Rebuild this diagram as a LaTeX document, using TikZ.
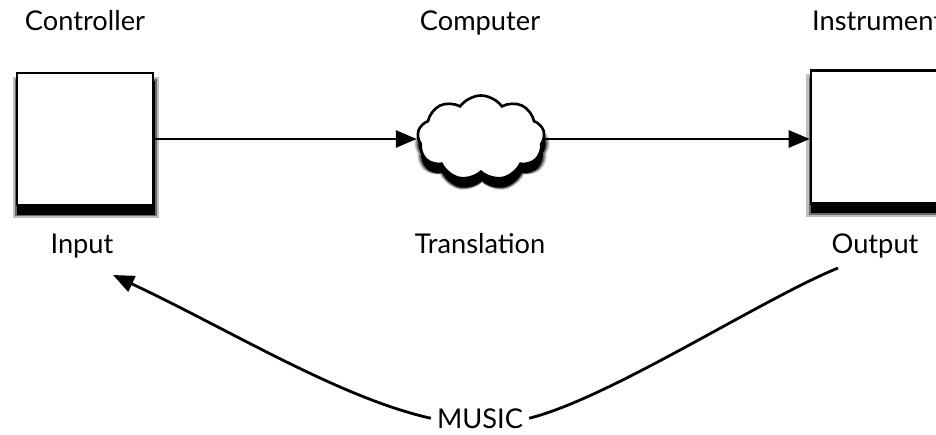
\documentclass[tikz,border=0pt]{standalone}
\usepackage{fontspec}
\setmainfont{Lato}
\usetikzlibrary{shapes.symbols,shadows,arrows.meta}

\begin{document}
\begin{tikzpicture}[x=0.02cm, y=-0.02cm, font=\fontsize{15.5}{18}\selectfont,
  fuzz/.style={drop shadow={shadow xshift=0.02cm, shadow yshift=-0.16cm, shadow scale=1.07, opacity=0.25, fill=black},
    drop shadow={shadow xshift=0.02cm, shadow yshift=-0.17cm, shadow scale=1.04, opacity=0.45, fill=black},
    drop shadow={shadow xshift=0.02cm, shadow yshift=-0.18cm, shadow scale=1.01, opacity=1, fill=black}},
  box/.style={draw, line width=1.5pt, fill=white, inner sep=0pt, fuzz},
  caption/.style={anchor=base},
  link/.style={line width=1.6pt, -{Triangle[length=0.42cm, width=0.34cm]}}]
 \useasboundingbox (0,0) rectangle (936,435);
 % the three stages
 \node (ctrl) [box, minimum width=2.72cm, minimum height=2.64cm] at (85,139) {};
 \node (comp) [box, cloud, cloud puffs=9, cloud puff arc=110, aspect=1.5,
   minimum width=2.54cm, minimum height=1.7cm] at (481,138) {};
 \node (instr) [box, minimum width=3.2cm, minimum height=2.66cm] at (891,137) {};
 % titles and captions
 \node (ctrlname) [caption] at (85,31) {Controller};
 \node (compname) [caption] at (480,31) {Computer};
 \node (instrname) [caption, anchor=base west] at (806,31) {Instrument};
 \node (input) [caption] at (82,254) {Input};
 \node (trans) [caption] at (480,254) {Translation};
 \node (output) [caption] at (875,254) {Output};
 \node (music) [caption] at (480,428) {MUSIC};
 \coordinate (intip) at (113,275);
 \coordinate (outend) at (838,268);
 \draw[link] (ctrl.east) -- (comp.west |- ctrl.east);
 \draw[link] (comp.east |- ctrl.east) -- (instr.west |- ctrl.east);
 \draw[link] (music.west) .. controls (340,398) and (230,330) .. (intip);
 \draw[line width=1.6pt] (music.east) .. controls (610,398) and (760,300) .. (outend);
\end{tikzpicture}
\end{document}
